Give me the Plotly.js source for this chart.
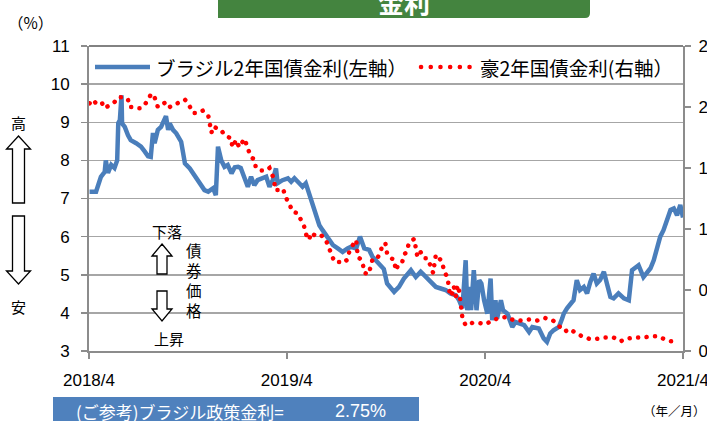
<!DOCTYPE html>
<html><head><meta charset="utf-8">
<script src="https://cdn.plot.ly/plotly-3.0.1.min.js"></script>
<style>
html,body{margin:0;padding:0;background:#fff;overflow:hidden}
#chart{width:707px;height:421px}
</style></head><body><div id="chart"></div>
<script>
// ---------------- DATA ----------------
const brazilDates = ['2018-04-02','2018-04-14','2018-04-23','2018-04-30','2018-05-02','2018-05-06','2018-05-12','2018-05-18','2018-05-23','2018-05-25','2018-05-28','2018-05-31','2018-06-01','2018-06-06','2018-06-12','2018-06-17','2018-06-27','2018-07-06','2018-07-13','2018-07-19','2018-07-24','2018-07-28','2018-07-31','2018-08-06','2018-08-12','2018-08-17','2018-08-21','2018-08-25','2018-08-28','2018-09-03','2018-09-09','2018-09-18','2018-09-25','2018-10-04','2018-10-13','2018-10-22','2018-10-31','2018-11-07','2018-11-16','2018-11-21','2018-11-25','2018-12-01','2018-12-07','2018-12-13','2018-12-20','2018-12-26','2019-01-01','2019-01-06','2019-01-13','2019-01-19','2019-01-25','2019-01-31','2019-02-06','2019-02-15','2019-02-22','2019-02-28','2019-03-06','2019-03-12','2019-03-15','2019-03-24','2019-04-03','2019-04-09','2019-04-15','2019-04-24','2019-04-30','2019-05-06','2019-05-12','2019-05-19','2019-05-25','2019-05-31','2019-06-06','2019-06-12','2019-06-18','2019-06-25','2019-07-04','2019-07-13','2019-07-22','2019-07-28','2019-08-07','2019-08-14','2019-08-22','2019-08-31','2019-09-06','2019-09-16','2019-09-22','2019-09-27','2019-10-03','2019-10-16','2019-10-25','2019-11-03','2019-11-16','2019-11-25','2019-12-04','2019-12-13','2019-12-22','2020-01-01','2020-01-10','2020-01-19','2020-01-28','2020-02-07','2020-02-13','2020-02-19','2020-02-25','2020-02-28','2020-03-04','2020-03-06','2020-03-11','2020-03-16','2020-03-21','2020-03-25','2020-03-30','2020-04-05','2020-04-11','2020-04-14','2020-04-20','2020-04-23','2020-04-30','2020-05-04','2020-05-12','2020-05-21','2020-05-27','2020-06-05','2020-06-12','2020-06-21','2020-06-27','2020-07-09','2020-07-18','2020-07-24','2020-07-30','2020-08-05','2020-08-15','2020-08-21','2020-08-24','2020-08-30','2020-09-05','2020-09-11','2020-09-17','2020-09-23','2020-09-30','2020-10-06','2020-10-12','2020-10-18','2020-10-24','2020-10-30','2020-11-06','2020-11-12','2020-11-18','2020-11-24','2020-12-03','2020-12-13','2020-12-22','2020-12-28','2021-01-03','2021-01-09','2021-01-18','2021-01-25','2021-01-31','2021-02-06','2021-02-12','2021-02-18','2021-02-24','2021-03-02','2021-03-09','2021-03-15','2021-03-21','2021-03-27','2021-04-01'];
const brazilYield = [7.18,7.18,7.57,7.70,8.00,7.67,7.88,7.80,8.00,8.98,9.06,9.71,8.97,8.88,8.66,8.53,8.45,8.36,8.23,8.11,8.09,8.72,8.45,8.80,8.88,9.01,9.16,8.80,8.97,8.80,8.71,8.49,7.92,7.79,7.61,7.44,7.22,7.18,7.27,7.09,8.36,8.00,7.83,7.88,7.66,7.82,7.83,7.80,7.57,7.31,7.57,7.35,7.48,7.53,7.57,7.31,7.48,7.79,7.40,7.48,7.53,7.44,7.53,7.40,7.31,7.40,7.13,6.78,6.52,6.30,6.17,6.04,5.95,5.78,5.69,5.60,5.69,5.73,5.69,6.00,5.69,5.65,5.47,5.30,5.21,5.15,4.77,4.55,4.68,4.90,5.12,4.94,5.08,4.94,4.81,4.68,4.64,4.60,4.51,4.46,4.33,4.12,5.38,4.07,4.68,4.07,5.12,4.07,4.86,4.77,4.33,3.98,4.90,3.81,4.33,3.85,4.33,4.07,3.98,3.63,3.76,3.72,3.68,3.50,3.63,3.59,3.33,3.24,3.46,3.54,3.63,3.85,3.98,4.12,4.25,4.33,4.86,4.60,4.68,4.51,4.81,5.03,4.77,4.86,5.08,4.77,4.42,4.38,4.51,4.38,4.33,5.12,5.17,5.25,4.94,5.08,5.17,5.38,5.73,6.00,6.17,6.43,6.70,6.74,6.56,6.83,6.50];

const ausDates = ['2018-04-02','2018-04-08','2018-04-14','2018-04-24','2018-04-30','2018-05-09','2018-05-18','2018-05-25','2018-06-06','2018-06-12','2018-06-15','2018-06-24','2018-06-30','2018-07-06','2018-07-13','2018-07-19','2018-07-25','2018-07-31','2018-08-06','2018-08-12','2018-08-22','2018-08-28','2018-09-06','2018-09-12','2018-09-25','2018-10-01','2018-10-10','2018-10-19','2018-10-28','2018-11-07','2018-11-10','2018-11-13','2018-11-16','2018-11-22','2018-12-01','2018-12-07','2018-12-13','2018-12-20','2018-12-21','2018-12-29','2019-01-03','2019-01-10','2019-01-13','2019-01-19','2019-01-25','2019-01-31','2019-02-03','2019-02-12','2019-02-22','2019-02-28','2019-03-06','2019-03-09','2019-03-10','2019-03-18','2019-03-25','2019-03-30','2019-04-06','2019-04-12','2019-04-21','2019-04-27','2019-05-03','2019-05-06','2019-05-12','2019-05-16','2019-05-22','2019-05-28','2019-06-03','2019-06-12','2019-06-18','2019-06-25','2019-06-28','2019-07-07','2019-07-13','2019-07-22','2019-07-25','2019-08-01','2019-08-07','2019-08-10','2019-08-16','2019-08-19','2019-08-22','2019-08-30','2019-09-03','2019-09-06','2019-09-13','2019-09-19','2019-09-22','2019-09-25','2019-09-30','2019-10-03','2019-10-10','2019-10-16','2019-10-19','2019-10-25','2019-10-31','2019-11-03','2019-11-08','2019-11-12','2019-11-22','2019-11-25','2019-11-28','2019-12-04','2019-12-10','2019-12-17','2019-12-22','2019-12-27','2020-01-01','2020-01-07','2020-01-13','2020-01-16','2020-01-22','2020-01-25','2020-01-27','2020-01-31','2020-02-03','2020-02-07','2020-02-10','2020-02-13','2020-02-16','2020-02-19','2020-02-25','2020-03-08','2020-03-21','2020-04-02','2020-04-14','2020-04-26','2020-05-12','2020-05-24','2020-06-08','2020-06-23','2020-07-06','2020-07-21','2020-08-04','2020-08-15','2020-08-26','2020-09-05','2020-09-14','2020-09-27','2020-10-10','2020-10-24','2020-11-09','2020-11-24','2020-12-07','2020-12-17','2021-01-02','2021-01-18','2021-02-01','2021-02-15','2021-02-24','2021-03-10','2021-03-24'];
const ausYield = [2.03,2.06,2.03,2.04,1.99,2.02,2.04,2.08,2.08,2.06,2.00,2.00,1.99,1.99,2.02,2.06,2.11,2.08,2.00,2.02,2.04,2.00,2.02,2.04,2.06,2.03,1.95,1.95,1.97,1.93,1.87,1.79,1.84,1.83,1.81,1.77,1.76,1.74,1.67,1.73,1.67,1.72,1.74,1.66,1.59,1.57,1.50,1.48,1.48,1.50,1.44,1.40,1.32,1.32,1.33,1.26,1.20,1.14,1.13,1.07,1.02,0.96,0.91,0.97,0.95,0.96,0.95,0.91,0.85,0.77,0.73,0.73,0.72,0.75,0.81,0.87,0.91,0.77,0.75,0.72,0.64,0.63,0.70,0.75,0.75,0.79,0.83,0.88,0.88,0.80,0.76,0.75,0.66,0.72,0.73,0.79,0.81,0.88,0.92,0.84,0.77,0.81,0.76,0.76,0.69,0.64,0.79,0.76,0.73,0.65,0.61,0.53,0.45,0.47,0.53,0.45,0.54,0.49,0.34,0.27,0.21,0.23,0.23,0.22,0.25,0.27,0.28,0.25,0.25,0.26,0.25,0.27,0.25,0.20,0.16,0.18,0.15,0.12,0.10,0.10,0.11,0.11,0.08,0.10,0.11,0.11,0.12,0.12,0.10,0.08,0.08];

const tickDates = ['2018-04-01','2019-04-01','2020-04-01','2021-04-01'];
const tickLabels = ['2018/4','2019/4','2020/4','2021/4'];
const seriesNames = ['ブラジル2年国債金利(左軸）','豪2年国債金利(右軸）'];
const titleText = '金利';
const unitText = '（%）';
const periodText = '（年／月）';
const policyLabel = '(ご参考)ブラジル政策金利=';
const policyValue = '2.75%';

// ---------------- STYLE / LAYOUT HELPERS ----------------
const L = 89, T = 46, W = 594, H = 305;
const px = x => (x - L) / W;
const py = y => (T + H - y) / H;
function polyPath(pts){
  return 'M' + pts.map(p => px(p[0]).toFixed(5) + ',' + py(p[1]).toFixed(5)).join('L') + 'Z';
}
function upArrow(cx, tip, base, bottom, hh, sh){
  return polyPath([[cx,tip],[cx+hh,base],[cx+sh,base],[cx+sh,bottom],[cx-sh,bottom],[cx-sh,base],[cx-hh,base]]);
}
function downArrow(cx, top, base, tip, hh, sh){
  return polyPath([[cx-sh,top],[cx+sh,top],[cx+sh,base],[cx+hh,base],[cx,tip],[cx-hh,base],[cx-sh,base]]);
}
const BLUE = '#4a7ebb', RED = '#ff0000', GRID = '#a6a6a6', AX = '#8c8c8c';
const JP = 'Noto Sans CJK JP, sans-serif';
const NUM = 'Liberation Sans, Noto Sans CJK JP, sans-serif';
const DOTDASH = '0.1px,8.4px';

const arrowStyle = {type:'path', xref:'paper', yref:'paper', line:{color:'#000', width:1.3}, fillcolor:'#fff', layer:'above'};

const shapes = [
  {type:'path', xref:'paper', yref:'paper', layer:'above', line:{width:0}, fillcolor:'#44843f',
   path: 'M'+px(218)+','+py(-2)+'L'+px(590)+','+py(-2)+'L'+px(590)+','+py(13)+'Q'+px(590)+','+py(18)+' '+px(585)+','+py(18)+'L'+px(218)+','+py(18)+'Z'},
  {type:'line', xref:'paper', yref:'paper', x0:0, x1:1, y0:1, y1:1, line:{color:'#595959', width:1.5}, layer:'above'},
  {type:'line', xref:'paper', yref:'paper', x0:px(95), x1:px(150), y0:py(67), y1:py(67), line:{color:BLUE, width:4.5}, layer:'above'},
  {type:'line', xref:'paper', yref:'paper', x0:px(421), x1:px(471), y0:py(67), y1:py(67), line:{color:RED, width:4.5, dash:'0.1px,9.6px'}, layer:'above'},
  Object.assign({path: upArrow(18.5, 136, 149, 203, 12, 6)}, arrowStyle),
  Object.assign({path: downArrow(18.5, 216, 271, 284, 12, 6)}, arrowStyle),
  Object.assign({path: upArrow(162, 244, 256, 274, 10, 5)}, arrowStyle),
  Object.assign({path: downArrow(162, 291, 309, 321, 10, 5)}, arrowStyle),
  {type:'rect', xref:'paper', yref:'paper', x0:px(53), x1:px(419), y0:py(397), y1:py(425), line:{width:0}, fillcolor:'#4f81bd', layer:'above'}
];

function ann(text, x, y, opts){
  return Object.assign({text:text, xref:'paper', yref:'paper', x:px(x), y:py(y), showarrow:false,
    xanchor:'center', yanchor:'middle', font:{family:JP, size:14, color:'#000'}}, opts||{});
}

const annotations = [
  ann(titleText, 404, 1, {font:{family:JP, size:26, color:'#fff', weight:700}}),
  ann(unitText, 30, 22, {font:{family:JP, size:15.5, color:'#000'}}),
  ann(seriesNames[0], 154, 67, {xanchor:'left', font:{family:JP, size:19.5, color:'#000'}}),
  ann(seriesNames[1], 478, 67, {xanchor:'left', font:{family:JP, size:19.5, color:'#000'}}),
  ann('高', 18.5, 122, {font:{family:JP, size:15, color:'#000'}}),
  ann('安', 18.5, 306, {font:{family:JP, size:15, color:'#000'}}),
  ann('下落', 167, 231, {font:{family:JP, size:15, color:'#000'}}),
  ann('上昇', 169, 338, {font:{family:JP, size:15, color:'#000'}}),
  ann('債<br>券<br>価<br>格', 194, 280, {font:{family:JP, size:15.5, color:'#000'}}),
  ann(policyLabel, 74, 411, {xanchor:'left', font:{family:JP, size:17, color:'#fff'}}),
  ann(policyValue, 360, 411, {font:{family:NUM, size:18, color:'#fff'}}),
  ann(periodText, 674, 410, {font:{family:JP, size:12.5, color:'#000'}})
];

const traces = [
  {x: brazilDates, y: brazilYield, name: seriesNames[0], type:'scatter', mode:'lines',
   line:{color:BLUE, width:4.5}, yaxis:'y'},
  {x: ausDates, y: ausYield, name: seriesNames[1], type:'scatter', mode:'lines',
   line:{color:RED, width:4.5, dash:DOTDASH}, yaxis:'y2'}
];

const axisCommon = {ticks:'outside', ticklen:6, tickcolor:AX, tickwidth:1.5, showline:true, linecolor:AX, linewidth:2, zeroline:false, ticklabeloverflow:'allow'};

const layout = {
  width:707, height:421, margin:{l:L, r:707-L-W, t:T, b:421-T-H, pad:0},
  paper_bgcolor:'#fff', plot_bgcolor:'#fff', showlegend:false,
  font:{family:NUM, size:16, color:'#000'},
  xaxis: Object.assign({type:'date', range:['2018-04-01','2021-04-01'], tickvals:tickDates, ticktext:tickLabels,
    showgrid:false, tickfont:{family:NUM, size:17, color:'#000'}, ticklabelstandoff:7}, axisCommon),
  yaxis: Object.assign({range:[3,11], tick0:3, dtick:1, showgrid:true, gridcolor:GRID, gridwidth:1.5,
    tickfont:{family:NUM, size:17, color:'#000'}, ticklabelstandoff:8}, axisCommon),
  yaxis2: Object.assign({overlaying:'y', side:'right', range:[0,2.5], tick0:0, dtick:0.5, tickformat:'.1f', showgrid:false,
    tickfont:{family:NUM, size:17, color:'#000'}, ticklabelstandoff:4}, axisCommon),
  shapes: shapes,
  annotations: annotations
};

Plotly.newPlot('chart', traces, layout, {staticPlot:true, displayModeBar:false}).then(function(){
  document.querySelectorAll('#chart svg path').forEach(function(p){
    if (p.style.stroke === 'rgb(255, 0, 0)') p.style.strokeLinecap = 'round';
  });
});
</script></body></html>
